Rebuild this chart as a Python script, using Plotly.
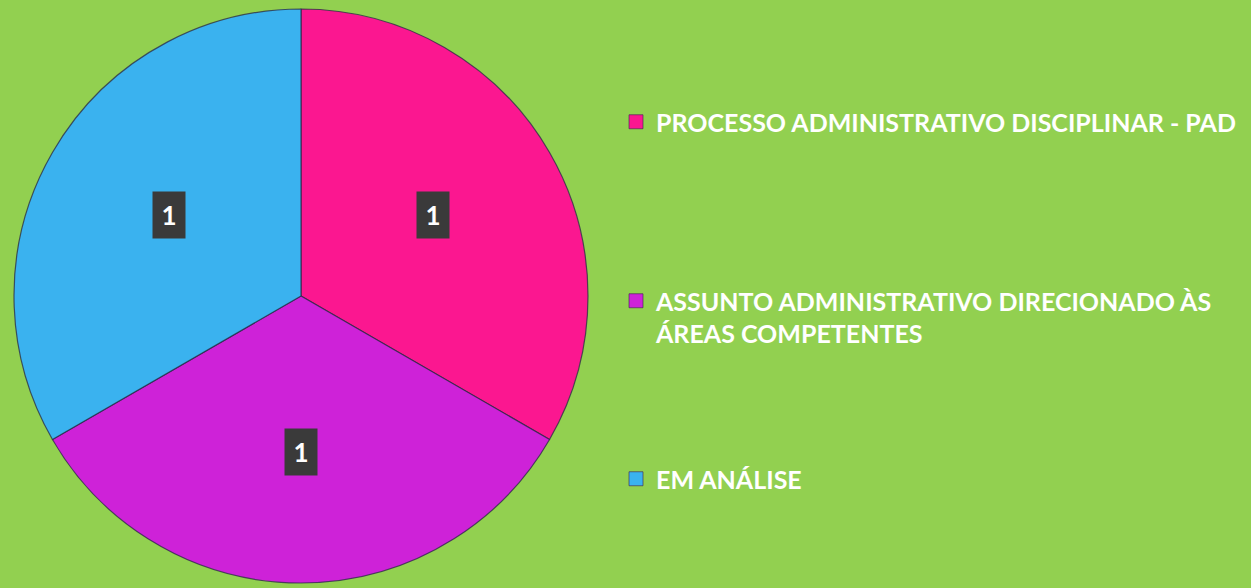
import math
import plotly.graph_objects as go

# Chart data
categorias = [
    "PROCESSO ADMINISTRATIVO DISCIPLINAR - PAD",
    "ASSUNTO ADMINISTRATIVO DIRECIONADO ÀS<br>ÁREAS COMPETENTES",
    "EM ANÁLISE",
]
valores = [1, 1, 1]
cores = ["#FB1790", "#CE22D8", "#3AB2EF"]

W, H = 1251, 588
BG = "#92D050"

# pie placement (paper fractions)
dom_x = [13 / W, 589 / W]
dom_y = [1 - 583 / H, 1 - 9 / H]

fig = go.Figure()
fig.add_trace(go.Pie(
    values=valores,
    labels=[c.replace("<br>", " ") for c in categorias],
    marker=dict(colors=cores, line=dict(color="rgba(40,40,70,0.75)", width=1.2)),
    sort=False,
    direction="clockwise",
    rotation=0,
    textinfo="none",
    hoverinfo="label+value",
    showlegend=False,
    domain=dict(x=dom_x, y=dom_y),
))

# value labels in dark boxes, placed at each slice's mid-angle
cx = (dom_x[0] + dom_x[1]) / 2 * W
cy = (1 - (dom_y[0] + dom_y[1]) / 2) * H
r = min((dom_x[1] - dom_x[0]) * W, (dom_y[1] - dom_y[0]) * H) / 2
total = sum(valores)
acc = 0
annotations = []
for v in valores:
    mid = (acc + v / 2) / total * 2 * math.pi
    acc += v
    px = cx + 0.53 * r * math.sin(mid)
    py = cy - 0.55 * r * math.cos(mid) - 2
    annotations.append(dict(
        x=px / W, y=1 - py / H, xref="paper", yref="paper",
        text=f"<b>{v}</b>", showarrow=False,
        font=dict(family="Lato", size=26, color="white"),
        bgcolor="#3A3A3A", width=32, height=46, borderpad=0,
        xanchor="center", yanchor="middle",
    ))

# legend entries, one legend per category
leg_y = [1 - 122 / H, 1 - 317 / H, 1 - 479 / H]
legend_names = ["legend", "legend2", "legend3"]
for name, cor, lg in zip(categorias, cores, legend_names):
    fig.add_trace(go.Scatter(
        x=[None], y=[None], mode="markers",
        name="<b>" + name.replace("<br>", "</b><br><b>") + "</b>",
        marker=dict(symbol="square", size=14, color=cor,
                    line=dict(color="rgba(60,30,80,0.6)", width=1)),
        legend=lg, showlegend=True, hoverinfo="skip",
    ))

leg_common = dict(
    x=616 / W, xanchor="left", yanchor="middle",
    bgcolor="rgba(0,0,0,0)", borderwidth=0, valign="top",
    font=dict(family="Lato", size=25, color="white"),
    itemclick=False, itemdoubleclick=False,
)
layout_legends = {}
for lg, y in zip(legend_names, leg_y):
    layout_legends[lg] = dict(leg_common, y=y)

fig.update_layout(
    width=W, height=H,
    margin=dict(l=0, r=0, t=0, b=0),
    paper_bgcolor=BG, plot_bgcolor=BG,
    xaxis=dict(visible=False), yaxis=dict(visible=False),
    annotations=annotations,
    **layout_legends,
)

fig.write_html("out.html", config={"displayModeBar": False})
